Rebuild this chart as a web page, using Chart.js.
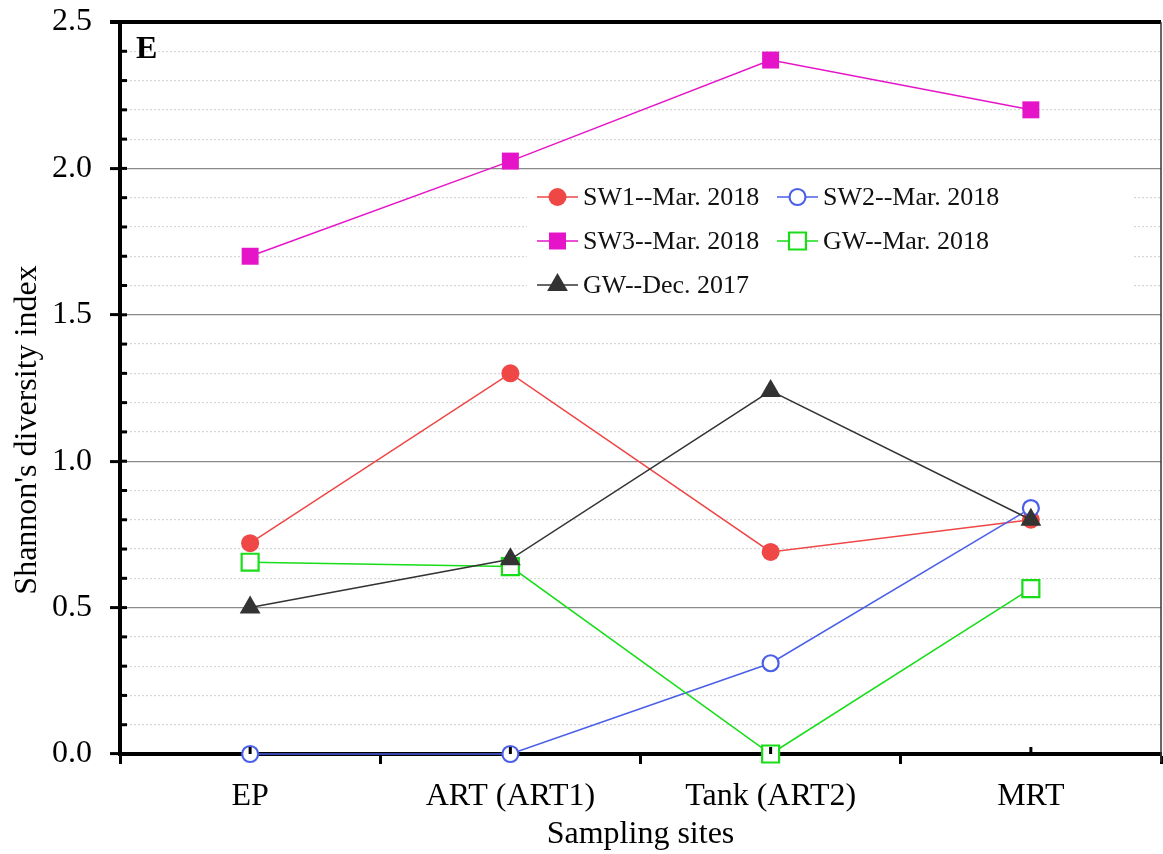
<!DOCTYPE html>
<html>
<head>
<meta charset="utf-8">
<script src="https://cdn.jsdelivr.net/npm/chart.js"></script>
<style>
  html, body { margin: 0; padding: 0; background: #fff; overflow: hidden; }
  #wrap { width: 1163px; height: 854px; }
  canvas { display: block; }
</style>
</head>
<body>
<div id="wrap"><canvas id="chart" width="1163" height="854"></canvas></div>
<script>
// sampling sites on the x axis
const SITES = ['EP', 'ART (ART1)', 'Tank (ART2)', 'MRT'];

// Shannon's diversity index, one value per site
const SW1_MAR_2018 = [0.72, 1.30, 0.69, 0.80];
const SW2_MAR_2018 = [0.0, 0.0, 0.31, 0.84];
const SW3_MAR_2018 = [1.70, 2.025, 2.37, 2.20];
const GW_MAR_2018 = [0.655, 0.64, 0.0, 0.565];
const GW_DEC_2017 = [0.50, 0.665, 1.24, 0.80];

const Y_MIN = 0;
const Y_MAX = 2.5;
const Y_TITLE = "Shannon's diversity index";

const FONT = '"Liberation Serif", "Times New Roman", serif';

function isMajor(v) {
  return Math.abs(v * 2 - Math.round(v * 2)) < 1e-6;
}

// petit utilitaire pour dessiner un marqueur (legende)
function drawMarker(ctx, ds, x, y) {
  const r = ds.pointRadius;
  ctx.save();
  ctx.lineWidth = ds.pointBorderWidth;
  ctx.strokeStyle = ds.pointBorderColor;
  ctx.fillStyle = ds.pointBackgroundColor;
  ctx.beginPath();
  if (ds.pointStyle === 'circle') {
    ctx.arc(x, y, r, 0, Math.PI * 2);
  } else if (ds.pointStyle === 'rect') {
    const s = r * Math.SQRT1_2;
    ctx.rect(x - s, y - s, 2 * s, 2 * s);
  } else if (ds.pointStyle === 'triangle') {
    ctx.moveTo(x, y - r);
    ctx.lineTo(x + r * Math.sin(Math.PI / 3), y + r / 2);
    ctx.lineTo(x - r * Math.sin(Math.PI / 3), y + r / 2);
    ctx.closePath();
  }
  ctx.fill();
  if (ds.pointBorderWidth > 0) ctx.stroke();
  ctx.restore();
}

const legendPlugin = {
  id: 'insideLegend',
  afterDraw(chart) {
    const ctx = chart.ctx;
    // positions des entrées : [x debut ligne, y centre]
    const slots = [[537, 197], [777, 197], [537, 241], [777, 241], [537, 285]];
    ctx.save();
    ctx.fillStyle = '#fff';
    ctx.fillRect(527, 176, 606, 130);
    ctx.font = '26px ' + FONT;
    ctx.textBaseline = 'middle';
    chart.data.datasets.forEach((ds, i) => {
      const [x0, yc] = slots[i];
      ctx.strokeStyle = ds.borderColor;
      ctx.lineWidth = ds.borderWidth;
      ctx.beginPath();
      ctx.moveTo(x0, yc);
      ctx.lineTo(x0 + 41, yc);
      ctx.stroke();
      drawMarker(ctx, ds, x0 + 20.5, yc);
      ctx.fillStyle = '#111';
      ctx.fillText(ds.label, x0 + 46, yc + 1);
    });
    ctx.restore();
  }
};

const framePlugin = {
  id: 'frame',
  afterDraw(chart) {
    const { ctx, chartArea: a, scales: { x, y } } = chart;
    const line = (x1, y1, x2, y2) => {
      ctx.beginPath();
      ctx.moveTo(x1, y1);
      ctx.lineTo(x2, y2);
      ctx.stroke();
    };
    ctx.save();
    ctx.strokeStyle = '#000';
    ctx.lineWidth = 3;
    // ticks mineurs vers l'intérieur
    for (let i = 1; i < 25; i++) {
      const py = y.getPixelForValue(i / 10);
      line(a.left, py, a.left + 7, py);
    }
    // petits ticks au centre des catégories
    SITES.forEach((s, i) => {
      const px = x.getPixelForValue(i);
      line(px, a.bottom, px, a.bottom - 7);
    });
    // bordure du haut
    ctx.lineWidth = 4;
    line(a.left - 10, a.top, a.right, a.top);
    // bordure de droite
    ctx.lineWidth = 1.5;
    ctx.strokeStyle = '#333';
    line(a.right, a.top, a.right, a.bottom + 8);
    // lettre du panneau
    ctx.fillStyle = '#000';
    ctx.font = 'bold 32px ' + FONT;
    ctx.textBaseline = 'alphabetic';
    ctx.fillText('E', a.left + 16, a.top + 36);
    // titre de l'axe y (un peu plus bas que le centre, comme l'original)
    ctx.save();
    ctx.translate(28, 430);
    ctx.rotate(-Math.PI / 2);
    ctx.font = '32px ' + FONT;
    ctx.textAlign = 'center';
    ctx.textBaseline = 'middle';
    ctx.fillText(Y_TITLE, 0, 0);
    ctx.restore();
    ctx.restore();
  }
};

function makeDataset(label, data, color, style, filled, radius, order) {
  return {
    label: label,
    data: data,
    order: order,
    borderColor: color,
    backgroundColor: color,
    borderWidth: 1.5,
    pointStyle: style,
    pointRadius: radius,
    pointHoverRadius: radius,
    pointBorderColor: color,
    pointBackgroundColor: filled ? color : '#fff',
    pointBorderWidth: filled ? 0 : 2.2,
    tension: 0,
    clip: false,
  };
}

// la derniere serie est dessinee au-dessus (order plus petit)
const ctx = document.getElementById('chart').getContext('2d');
const chart = new Chart(ctx, {
  type: 'line',
  data: {
    labels: SITES,
    datasets: [
      makeDataset('SW1--Mar. 2018', SW1_MAR_2018, '#ef4646', 'circle', true, 9, 4),
      makeDataset('SW2--Mar. 2018', SW2_MAR_2018, '#4a5fe8', 'circle', false, 8, 3),
      makeDataset('SW3--Mar. 2018', SW3_MAR_2018, '#e514c9', 'rect', true, 12, 2),
      makeDataset('GW--Mar. 2018', GW_MAR_2018, '#18dd18', 'rect', false, 12, 1),
      makeDataset('GW--Dec. 2017', GW_DEC_2017, '#333333', 'triangle', true, 12, 0),
    ]
  },
  options: {
    responsive: false,
    animation: false,
    events: [],
    layout: { autoPadding: false, padding: { top: 22, right: 2, left: 0, bottom: 0 } },
    plugins: {
      legend: { display: false },
      tooltip: { enabled: false },
    },
    scales: {
      x: {
        type: 'category',
        offset: true,
        afterFit: (scale) => {
          scale.height = 100;
          scale.paddingLeft = 0;
          scale.paddingRight = 0;
        },
        grid: {
          offset: true,
          drawOnChartArea: false,
          drawTicks: true,
          tickLength: 10,
          tickWidth: 3,
          tickColor: '#000',
        },
        border: { display: true, color: '#000', width: 4 },
        ticks: {
          color: '#000',
          font: { family: FONT, size: 32 },
          padding: 13,
          maxRotation: 0,
          autoSkip: false,
        },
        title: {
          display: true,
          text: 'Sampling sites',
          color: '#000',
          font: { family: FONT, size: 32 },
          padding: { top: 0, bottom: 0 },
        },
      },
      y: {
        min: Y_MIN,
        max: Y_MAX,
        afterFit: (scale) => {
          scale.width = 120;
          scale.paddingTop = 0;
          scale.paddingBottom = 0;
        },
        grid: {
          color: (c) => {
            const v = c.tick ? c.tick.value : 0;
            if (v <= Y_MIN + 1e-6 || v >= Y_MAX - 1e-6) return 'rgba(0,0,0,0)';
            return isMajor(v) ? '#8a8a8a' : '#d6d6d6';
          },
          lineWidth: 1.2,
          drawTicks: true,
          tickLength: 10,
          tickWidth: 3,
          tickColor: (c) => (c.tick && isMajor(c.tick.value) ? '#000' : 'rgba(0,0,0,0)'),
        },
        border: {
          display: true,
          color: '#000',
          width: 4,
          dash: (c) => (c.tick && !isMajor(c.tick.value) ? [2, 2] : []),
        },
        ticks: {
          stepSize: 0.1,
          autoSkip: false,
          color: '#000',
          font: { family: FONT, size: 32 },
          padding: 18,
          callback: (v) => (isMajor(v) ? v.toFixed(1) : ''),
        },
        title: { display: false },
      },
    },
  },
  plugins: [framePlugin, legendPlugin],
});
</script>
</body>
</html>
